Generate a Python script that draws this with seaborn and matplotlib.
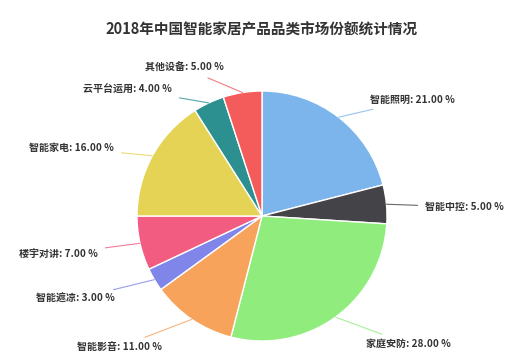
import numpy as np
import matplotlib
matplotlib.use("Agg")
import matplotlib.pyplot as plt
import seaborn as sns

# 数据
categories = ["智能照明", "智能中控", "家庭安防", "智能影音", "智能遮凉",
              "楼宇对讲", "智能家电", "云平台运用", "其他设备"]
shares = [21, 5, 28, 11, 3, 7, 16, 4, 5]

# 颜色 (Highcharts 默认色)
colors = ["#7cb5ec", "#434348", "#90ed7d", "#f7a35c", "#8085e9",
          "#f15c80", "#e4d354", "#2b908f", "#f45b5b"]

# 标签位置 (以半径为单位), 对齐方式
label_pos = [(0.864, 0.928), (1.304, 0.072), (0.832, -1.024), (-0.80, -1.048),
             (-1.176, -0.664), (-1.312, -0.304), (-1.184, 0.544),
             (-0.72, 1.016), (-0.304, 1.184)]

sns.set_theme(style="white")
plt.rcParams['font.family'] = ['Noto Sans CJK SC', 'DejaVu Sans']

fig = plt.figure(figsize=(5.27, 3.59), dpi=100)
ax = fig.add_axes([0, 0, 1, 1])

wedges, _ = ax.pie(shares, colors=colors, startangle=90, counterclock=False,
                   radius=1.0, wedgeprops=dict(edgecolor="white", linewidth=1))

total = sum(shares)
start = 90.0
for i, (name, v) in enumerate(zip(categories, shares)):
    mid = start - v / total * 360 / 2
    start -= v / total * 360
    ang = np.deg2rad(mid)
    xe, ye = np.cos(ang), np.sin(ang)
    tx, ty = label_pos[i]
    ha = "left" if tx > 0 else "right"
    ax.annotate(f"{name}: {v:.2f} %", xy=(xe, ye), xytext=(tx, ty),
                ha=ha, va="center", fontsize=7.2, fontweight="bold", color="#333333",
                arrowprops=dict(arrowstyle="-", color=colors[i], lw=0.8,
                                shrinkA=3, shrinkB=0, alpha=0.8))

ax.set_xlim(-262 / 125, 265 / 125)
ax.set_ylim(-143 / 125, 216 / 125)
ax.set_aspect("auto")
ax.axis("off")

fig.text(0.497, 1 - 30 / 359, "2018年中国智能家居产品品类市场份额统计情况",
         ha="center", va="center", fontsize=10.5, fontweight="bold", color="#333333")

fig.savefig("out.png", dpi=100)
